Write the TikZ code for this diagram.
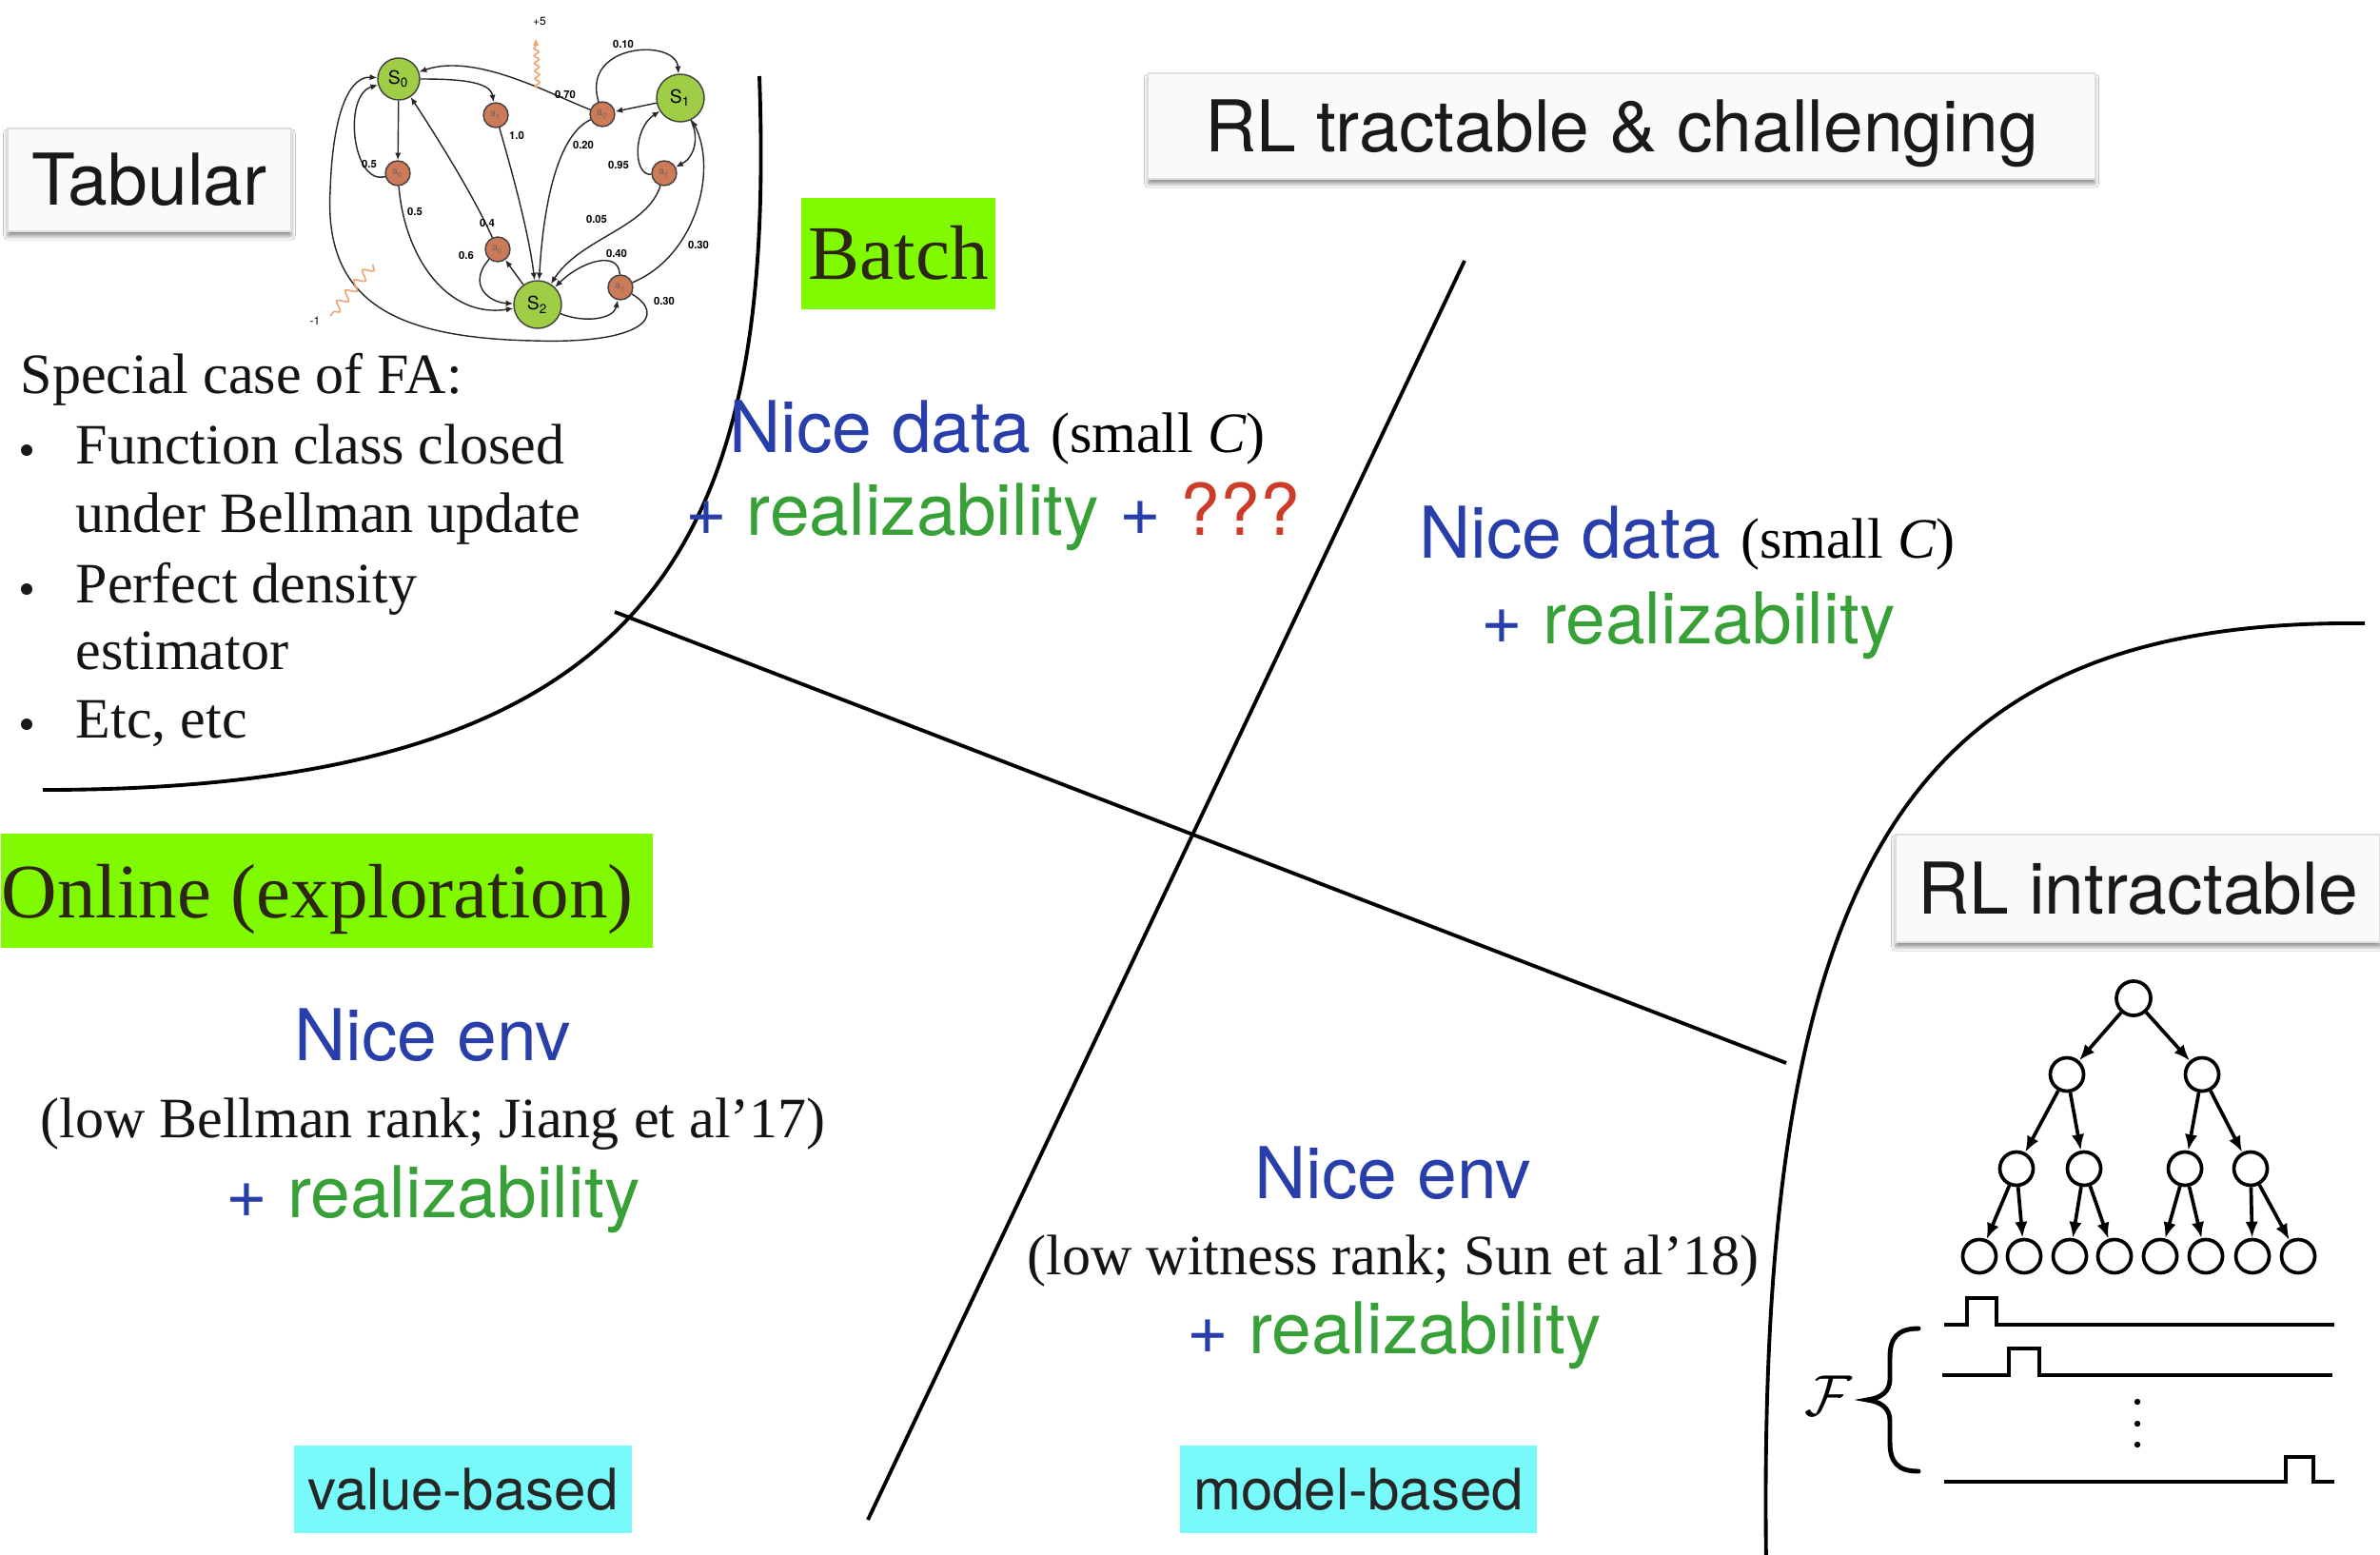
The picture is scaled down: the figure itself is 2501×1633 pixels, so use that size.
\documentclass[tikz,border=0pt]{standalone}
\usepackage{fontspec}
\setmainfont{Liberation Serif}
\newfontfamily\heros{TeX Gyre Heros}
\usetikzlibrary{arrows.meta,shadows.blur,decorations.pathmorphing}

\definecolor{panelfill}{RGB}{250,250,250}
\definecolor{panelline}{RGB}{222,222,222}
\definecolor{limebox}{RGB}{128,250,0}
\definecolor{aquabox}{RGB}{120,250,250}
\definecolor{inkdark}{RGB}{45,38,20}
\definecolor{niceblue}{RGB}{40,62,170}
\definecolor{realgreen}{RGB}{55,160,55}
\definecolor{qred}{RGB}{205,60,40}
\definecolor{stategreen}{RGB}{160,205,70}
\definecolor{actorange}{RGB}{205,122,88}
\definecolor{rewardorange}{RGB}{238,165,115}

% type sizes (1 px of the layout grid = 0.01cm)
\newcommand\bigsans{\heros\fontsize{21.34pt}{25pt}\selectfont}
\newcommand\midsans{\heros\fontsize{17.07pt}{20pt}\selectfont}
\newcommand\bodyserif{\rmfamily\fontsize{17.07pt}{20.6pt}\selectfont}
\newcommand\headserif{\rmfamily\fontsize{23.05pt}{27pt}\selectfont}

\tikzset{
  panel/.style={draw=panelline, line width=0.4pt, fill=panelfill,
    blur shadow={shadow xshift=0pt, shadow yshift=-1.4pt, shadow blur radius=1.2pt, shadow opacity=45},
    inner sep=0pt, font=\bigsans, text=black!90, text height=15.3pt, text depth=0pt},
  lime/.style={fill=limebox, inner sep=0pt, font=\headserif, text=inkdark,
    text height=15.26pt, text depth=0pt},
  tag/.style={fill=aquabox, inner sep=0pt, font=\midsans, text=black!85,
    text height=12.26pt, text depth=0pt},
  divider/.style={line width=1.1pt, black},
  listtxt/.style={anchor=base west, inner sep=0pt, font=\bodyserif, text=black!92},
  blurb/.style={anchor=base, inner sep=0pt, font=\bigsans},
  note/.style={anchor=base, inner sep=0pt, font=\bodyserif, text=black!92},
  % MDP sketch
  state/.style={circle, draw=black!75, line width=0.4pt, fill=stategreen,
    minimum size=0.5cm, inner sep=0pt, font=\heros\fontsize{5.5pt}{6pt}\selectfont},
  act/.style={circle, draw=black!75, line width=0.4pt, fill=actorange,
    minimum size=0.26cm, inner sep=0pt, font=\heros\fontsize{3pt}{3pt}\selectfont, text=black!60},
  tr/.style={line width=0.4pt, black!85, -{Latex[length=2.2pt,width=1.8pt]}},
  prob/.style={inner sep=0pt, font=\heros\bfseries\fontsize{3.2pt}{3.5pt}\selectfont},
  reward/.style={line width=0.45pt, rewardorange, decorate},
  % search tree
  tnode/.style={circle, draw, line width=1.05pt, minimum size=0.35cm, inner sep=0pt},
  tedge/.style={line width=1.05pt, -{Latex[length=4.8pt,width=3.8pt]}},
  stepline/.style={line width=1.1pt, line join=miter}
}

\begin{document}
\begin{tikzpicture}[x=0.01cm, y=-0.01cm]
\fill[white] (0,0) rectangle (2501,1633);
\useasboundingbox (0,0) rectangle (2501,1633);

% ---------- dividing curves and lines ----------
\coordinate (tabtop) at (798,80);
\coordinate (tabend) at (45,830);
\draw[divider] (tabtop) .. controls (815,560) and (700,830) .. (tabend);
\coordinate (hardtop) at (2485,655);
\coordinate (hardend) at (1856,1645);
\draw[divider] (hardtop) .. controls (2010,650) and (1845,900) .. (hardend);
\coordinate (splitAtop) at (1539,274);
\coordinate (splitAbot) at (912,1597);
\draw[divider] (splitAtop) -- (splitAbot);
\coordinate (splitBl) at (646,643);
\coordinate (splitBr) at (1877,1117);
\draw[divider] (splitBl) -- (splitBr);

% ---------- headline boxes ----------
\node[panel, minimum width=2.98cm, minimum height=1.08cm] (tabular) at (157,189) {Tabular};
\node[panel, minimum width=9.94cm, minimum height=1.11cm] (tractable) at (1704,132.5) {RL tractable \& challenging};
\node[panel, minimum width=5.09cm, minimum height=1.13cm] (intractable) at (2246.5,933.5) {RL intractable};

\node[lime, minimum width=2.04cm, minimum height=1.17cm] (batch) at (944,266.5) {Batch};
\node[fill=limebox, minimum width=6.85cm, minimum height=1.2cm, inner sep=0pt, anchor=north west] (onlinebox) at (0,875) {};
\node[anchor=base west, inner sep=0pt, text=inkdark, font=\headserif] (online) at (1,964) {Online (exploration)};

\node[tag, minimum width=3.55cm, minimum height=0.92cm] (valuebased) at (486.5,1565) {value-based};
\node[tag, minimum width=3.75cm, minimum height=0.92cm] (modelbased) at (1427.5,1565) {model-based};

% ---------- tabular notes ----------
\node[listtxt] (fa0) at (21,413) {Special case of FA:};
\node[listtxt] (fa1) at (79,487) {Function class closed};
\node[listtxt] (fa2) at (79,559) {under Bellman update};
\node[listtxt] (fa3) at (79,633) {Perfect density};
\node[listtxt] (fa4) at (79,703) {estimator};
\node[listtxt] (fa5) at (79,775) {Etc, etc};
\fill[black!90] (28,473) circle (6);
\fill[black!90] (28,619) circle (6);
\fill[black!90] (28,761) circle (6);

% ---------- quadrant captions ----------
\node[blurb] (batchA) at (1048,475) {{\color{niceblue}Nice data} {\bodyserif (small \textit{C})}};
\node[blurb] (batchB) at (1043,562) {{\color{niceblue}+} {\color{realgreen}realizability} {\color{niceblue}+} {\color{qred}???}};

\node[blurb] (mbA) at (1773,586) {{\color{niceblue}Nice data} {\bodyserif (small \textit{C})}};
\node[blurb] (mbB) at (1774,676) {{\color{niceblue}+} {\color{realgreen}realizability}};

\node[blurb, text=niceblue] (envA) at (455,1114) {Nice env};
\node[note] (envB) at (455,1195) {(low Bellman rank; Jiang et al’17)};
\node[blurb] (envC) at (455,1279) {{\color{niceblue}+} {\color{realgreen}realizability}};

\node[blurb, text=niceblue] (witA) at (1464,1259) {Nice env};
\node[note] (witB) at (1464,1339) {(low witness rank; Sun et al’18)};
\node[blurb] (witC) at (1465,1422) {{\color{niceblue}+} {\color{realgreen}realizability}};

% ---------- small MDP ----------
\node[state, minimum size=0.44cm] (s0) at (419,83) {S\textsubscript{0}};
\node[state] (s1) at (715,103) {S\textsubscript{1}};
\node[state] (s2) at (565,320) {S\textsubscript{2}};
\node[act] (a01) at (521,121) {a\textsubscript{1}};
\node[act] (a00) at (418,182) {a\textsubscript{0}};
\node[act] (a10) at (633,120) {a\textsubscript{0}};
\node[act] (a11) at (698,182) {a\textsubscript{1}};
\node[act] (a20) at (523,262) {a\textsubscript{0}};
\node[act] (a21) at (652,302) {a\textsubscript{1}};

\draw[tr] (s0) -- (a00);
\draw[tr] (a00) .. controls (370,195) and (360,100) .. (s0);
\draw[tr] (a00) .. controls (425,270) and (470,335) .. (s2);
\draw[tr] (s0) .. controls (480,83) and (515,85) .. (a01);
\draw[tr] (a01) .. controls (535,170) and (555,240) .. (s2);
\draw[tr] (s1) -- (a10);
\draw[tr] (a10) .. controls (580,100) and (500,55) .. (s0);
\draw[tr] (a10) .. controls (610,45) and (710,40) .. (s1);
\draw[tr] (a10) .. controls (590,140) and (572,200) .. (s2);
\draw[tr] (s1) .. controls (735,145) and (730,165) .. (a11);
\draw[tr] (a11) .. controls (665,185) and (665,135) .. (s1);
\draw[tr] (a11) .. controls (680,240) and (610,250) .. (s2);
\draw[tr] (s2) -- (a20);
\draw[tr] (a20) .. controls (495,200) and (450,130) .. (s0);
\draw[tr] (a20) .. controls (490,300) and (515,318) .. (s2);
\draw[tr] (s2) .. controls (615,340) and (645,335) .. (a21);
\draw[tr] (a21) .. controls (650,262) and (610,275) .. (s2);
\draw[tr] (a21) .. controls (730,270) and (755,180) .. (s1);
\draw[tr] (a21) .. controls (700,330) and (680,362) .. (560,358)
      .. controls (420,355) and (340,320) .. (347,200)
      .. controls (350,110) and (370,80) .. (s0);

\node[prob] (p00a) at (388,172) {0.5};
\node[prob] (p00b) at (436,222) {0.5};
\node[prob] (p01) at (543,142) {1.0};
\node[prob] (p10a) at (594,99) {0.70};
\node[prob] (p10b) at (655,46) {0.10};
\node[prob] (p10c) at (613,152) {0.20};
\node[prob] (p11a) at (650,173) {0.95};
\node[prob] (p11b) at (627,230) {0.05};
\node[prob] (p20a) at (512,234) {0.4};
\node[prob] (p20b) at (490,268) {0.6};
\node[prob] (p21a) at (648,266) {0.40};
\node[prob] (p21b) at (734,257) {0.30};
\node[prob] (p21c) at (698,316) {0.30};

\coordinate (rwdAfrom) at (565,93);
\coordinate (rwdAto) at (563,40);
\draw[reward, -{Latex[length=2.2pt,width=1.8pt]},
  decoration={snake, amplitude=0.025cm, segment length=0.08cm, post length=0.06cm}]
  (rwdAfrom) -- (rwdAto);
\node[prob, font=\heros\fontsize{3.4pt}{3.5pt}\selectfont] (plus5) at (567,22) {+5};
\coordinate (rwdBfrom) at (392,278);
\coordinate (rwdBto) at (347,332);
\draw[reward, decoration={snake, amplitude=0.05cm, segment length=0.14cm}]
  (rwdBfrom) -- (rwdBto);
\node[prob, font=\heros\fontsize{3.4pt}{3.5pt}\selectfont] (minus1) at (331,337) {-1};

% ---------- search tree ----------
\node[tnode, minimum size=0.36cm] (t0) at (2242,1049) {};
\node[tnode] (t1) at (2172,1129) {};
\node[tnode] (t2) at (2314,1129) {};
\node[tnode] (t3) at (2119,1228) {};
\node[tnode] (t4) at (2190,1228) {};
\node[tnode] (t5) at (2296,1228) {};
\node[tnode] (t6) at (2365,1228) {};
\node[tnode] (l1) at (2080,1320) {};
\node[tnode] (l2) at (2127,1320) {};
\node[tnode] (l3) at (2175,1320) {};
\node[tnode] (l4) at (2222,1320) {};
\node[tnode] (l5) at (2270,1320) {};
\node[tnode] (l6) at (2318,1320) {};
\node[tnode] (l7) at (2367,1320) {};
\node[tnode] (l8) at (2415,1320) {};
\foreach \u/\v in {t0/t1,t0/t2,t1/t3,t1/t4,t2/t5,t2/t6,t3/l1,t3/l2,t4/l3,t4/l4,t5/l5,t5/l6,t6/l7,t6/l8}
  \draw[tedge] (\u) -- (\v);

% ---------- indicator functions ----------
\draw[stepline] (2043,1392) -- (2067,1392) -- (2067,1364) -- (2098,1364) -- (2098,1392) -- (2453,1392);
\draw[stepline] (2041,1445) -- (2111,1445) -- (2111,1417) -- (2143,1417) -- (2143,1445) -- (2451,1445);
\draw[stepline] (2043,1557) -- (2402,1557) -- (2402,1531) -- (2431,1531) -- (2431,1557) -- (2453,1557);
\fill (2246,1473) circle (3.2);
\fill (2246,1496) circle (3.2);
\fill (2246,1518) circle (3.2);
\draw[line width=1.4pt, line cap=round]
  (2016,1396) .. controls (1994,1396) and (1986,1406) .. (1986,1426)
  -- (1986,1449) .. controls (1986,1462) and (1977,1469) .. (1962,1471)
  .. controls (1977,1473) and (1986,1480) .. (1986,1493)
  -- (1986,1516) .. controls (1986,1536) and (1994,1546) .. (2016,1546);
\node[inner sep=0pt, font=\fontsize{17pt}{17pt}\selectfont] (fclass) at (1921,1467) {$\mathcal{F}$};

\end{tikzpicture}
\end{document}
